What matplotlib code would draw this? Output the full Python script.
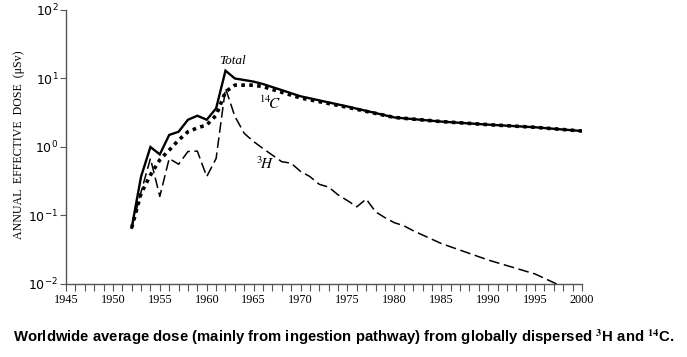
import matplotlib
matplotlib.use("Agg")
import matplotlib.pyplot as plt
from matplotlib.ticker import FixedLocator, FuncFormatter, MultipleLocator

plt.rcParams['mathtext.fontset'] = 'stix'

years_total = [1952, 1953, 1954, 1955, 1956, 1957, 1958, 1959, 1960, 1961, 1962, 1963, 1964,
               1965, 1966, 1970, 1975, 1980, 1985, 1990, 1995, 2000]
total = [0.066, 0.37, 1.0, 0.78, 1.5, 1.67, 2.5, 2.86, 2.5, 3.66, 13.0, 10.0, 9.5,
         9.0, 8.3, 5.5, 3.9, 2.7, 2.35, 2.12, 1.94, 1.71]

years_c14 = [1952, 1953, 1954, 1955, 1956, 1957, 1958, 1959, 1960, 1961, 1962, 1963, 1964,
             1965, 1966, 1970, 1975, 1980, 1985, 1990, 1995, 2000]
c14 = [0.066, 0.21, 0.39, 0.65, 0.9, 1.26, 1.67, 1.9, 2.1, 2.9, 6.4, 8.0, 8.0,
       8.0, 7.6, 5.2, 3.8, 2.7, 2.35, 2.12, 1.94, 1.71]

years_h3 = [1952, 1953, 1954, 1955, 1956, 1957, 1958, 1959, 1960, 1961, 1962, 1963, 1964,
            1965, 1966, 1967, 1968, 1969, 1970, 1971, 1972, 1973, 1974, 1975, 1976, 1977,
            1978, 1979, 1980, 1981, 1982, 1985, 1990, 1995, 1997.3]
h3 = [0.066, 0.22, 0.68, 0.19, 0.68, 0.56, 0.86, 0.87, 0.37, 0.68, 7.2, 2.8, 1.58,
      1.2, 0.95, 0.76, 0.61, 0.58, 0.44, 0.37, 0.285, 0.26, 0.20, 0.165, 0.134, 0.174,
      0.113, 0.093, 0.0785, 0.071, 0.06, 0.039, 0.0224, 0.014, 0.01]

x_major = [1945, 1950, 1955, 1960, 1965, 1970, 1975, 1980, 1985, 1990, 1995, 2000]
y_major = [1e-2, 1e-1, 1e0, 1e1, 1e2]
y_exps = ['-2', '-1', '0', '1', '2']

fig = plt.figure(figsize=(6.87, 3.57), dpi=100)
ax = fig.add_axes([66/687, 1-284/357, (582-66)/687, (284-10)/357])

ax.plot(years_total, total, color='black', lw=1.7, solid_joinstyle='miter')
ax.plot(years_c14, c14, color='black', lw=2.6, linestyle=(0, (1, 1.2)))
ax.plot(years_h3, h3, color='black', lw=1.1, linestyle=(0, (7, 3)))

ax.set_yscale('log')
ax.set_xlim(1945, 2000)
ax.set_ylim(1e-2, 1e2)

for s in ['top', 'right']:
    ax.spines[s].set_visible(False)
for s in ['left', 'bottom']:
    ax.spines[s].set_color('#555555')
    ax.spines[s].set_linewidth(1.0)

ax.xaxis.set_major_locator(FixedLocator(x_major))
ax.xaxis.set_minor_locator(MultipleLocator(1))
ax.set_xticklabels([str(v) for v in x_major], fontfamily='Liberation Serif', fontsize=8.8)
ax.tick_params(axis='x', which='both', direction='out', length=5, width=0.8, color='#555555', pad=2)

ax.yaxis.set_major_locator(FixedLocator(y_major))
ax.yaxis.set_minor_locator(FixedLocator([]))
ax.set_yticklabels([r'$\mathregular{10^{%s}}$' % e for e in y_exps], fontsize=9)
ax.tick_params(axis='y', which='both', direction='out', length=4, width=0.8, color='#555555', pad=1.5)

ax.set_ylabel('ANNUAL  EFFECTIVE  DOSE  (\u03bcSv)', fontfamily='Liberation Serif',
              fontsize=8.6)
ax.yaxis.set_label_coords(-0.08, 0.51)

ax.text(1962.7, 14.5, 'Total', fontfamily='Liberation Serif', style='italic', fontsize=9.5,
        ha='center', va='bottom')
ax.text(1966.8, 4.3, r'$^{14}\!C$', fontsize=11, ha='center', va='center')
ax.text(1966.2, 0.58, r'$^{3}\!H$', fontsize=11, ha='center', va='center')

fig.text(0.5, 1-337/357, 'Worldwide average dose (mainly from ingestion pathway) from globally dispersed $^{\\mathbf{3}}$H and $^{\\mathbf{14}}$C.',
         fontfamily='Liberation Sans', fontweight='bold', fontsize=10.7, ha='center', va='center')

fig.savefig('out.png', dpi=100)
